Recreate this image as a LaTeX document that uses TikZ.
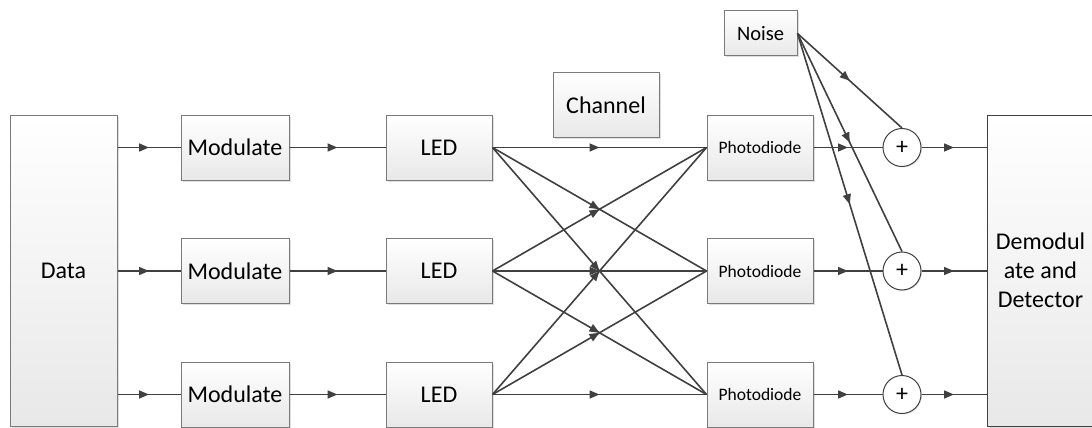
\documentclass[tikz,border=0pt]{standalone}
\usepackage{fontspec}
\setmainfont{Carlito}
\usepackage{tikz}
\usetikzlibrary{arrows.meta,positioning,shadows,decorations.markings}
\usepackage{xcolor}
\definecolor{linegray}{HTML}{404040}
\definecolor{boxline}{HTML}{7A7A7A}
\newcommand{\bigtxt}{\fontsize{24}{29}\selectfont}

\begin{document}
\begin{tikzpicture}[
  x=1pt, y=-1pt,
  blk/.style={rectangle, draw=boxline, line width=1pt, top color=white, bottom color=black!9, minimum width=106pt, minimum height=65pt, inner sep=0pt, align=center, font=\bigtxt, drop shadow={shadow xshift=1.5pt, shadow yshift=-1.5pt, opacity=0.25}},
  sum/.style={circle, draw=linegray, line width=1pt, fill=white, minimum size=38pt, inner sep=0pt, font=\bigtxt, drop shadow={shadow xshift=1pt, shadow yshift=-1pt, opacity=0.2}},
  arr/.style={linegray, line width=1.6pt, postaction={decorate}, decoration={markings, mark=at position 0.5 with {\arrow{Triangle[length=10pt,width=8pt]}}}}
]
\useasboundingbox (0,0) rectangle (1092,428);
\node[blk, minimum width=107pt, minimum height=311pt] (data) at (63.5,270.5) {Data};
\node[blk, minimum width=108pt] (mod1) at (235,147.5) {Modulate};
\node[blk, minimum width=108pt] (mod2) at (235,271) {Modulate};
\node[blk, minimum width=108pt] (mod3) at (235,394.5) {Modulate};
\node[blk] (led1) at (439,147.5) {LED};
\node[blk] (led2) at (439,271) {LED};
\node[blk] (led3) at (439,394.5) {LED};
\node[blk, minimum height=64pt] (chan) at (606,105) {Channel};
\node[blk, font=\fontsize{17.5}{21}\selectfont] (pd1) at (760,147.5) {Photodiode};
\node[blk, font=\fontsize{17.5}{21}\selectfont] (pd2) at (760,271) {Photodiode};
\node[blk, font=\fontsize{17.5}{21}\selectfont] (pd3) at (760,394.5) {Photodiode};
\node[blk, minimum width=73pt, minimum height=45pt, font=\fontsize{20.5}{24}\selectfont] (noise) at (760.5,33.5) {Noise};
\node[sum] (s1) at (902,147.5) {+};
\node[sum] (s2) at (902,271) {+};
\node[sum] (s3) at (902,394.5) {+};
\node[blk, draw=linegray, minimum width=107pt, minimum height=311pt] (dem) at (1040.5,270.5) {Demodul\\ate and\\Detector};
% data to modulators
\draw[arr] (data.east |- mod1) -- (mod1);
\draw[arr] (data.east |- mod2) -- (mod2);
\draw[arr] (data.east |- mod3) -- (mod3);
\draw[arr] (mod1) -- (led1);
\draw[arr] (mod2) -- (led2);
\draw[arr] (mod3) -- (led3);
% optical channel
\draw[arr] (led1.east) -- (pd1.west);
\draw[arr] (led1.east) -- (pd2.west);
\draw[arr] (led1.east) -- (pd3.west);
\draw[arr] (led2.east) -- (pd1.west);
\draw[arr] (led2.east) -- (pd2.west);
\draw[arr] (led2.east) -- (pd3.west);
\draw[arr] (led3.east) -- (pd1.west);
\draw[arr] (led3.east) -- (pd2.west);
\draw[arr] (led3.east) -- (pd3.west);
% receivers
\draw[arr] (pd1) -- (s1);
\draw[arr] (pd2) -- (s2);
\draw[arr] (pd3) -- (s3);
\draw[arr] (noise.east) -- (s1.north);
\draw[arr] (noise.east) -- (s2.north);
\draw[arr] (noise.east) -- (s3.north);
\draw[arr] (s1) -- (s1 -| dem.west);
\draw[arr] (s2) -- (s2 -| dem.west);
\draw[arr] (s3) -- (s3 -| dem.west);
\end{tikzpicture}
\end{document}
